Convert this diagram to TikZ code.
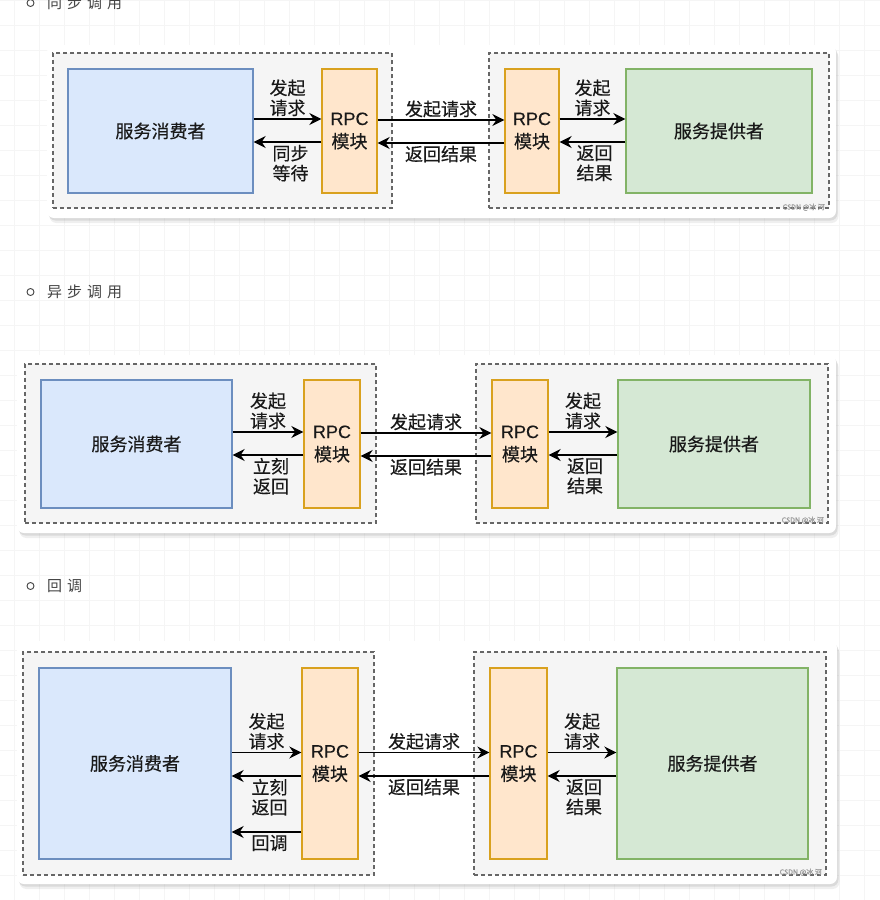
\documentclass[tikz,border=0pt]{standalone}
\usepackage{fontspec}
\setmainfont{Noto Sans CJK SC}[FakeBold=0.35]
\newfontfamily\latfont{Liberation Sans}[FakeBold=0.2]
\newfontfamily\naslovfont{Noto Sans CJK SC}[LetterSpace=33]
\usetikzlibrary{arrows.meta,shadows}
\definecolor{plavaispuna}{HTML}{DAE8FC}
\definecolor{plavaivica}{HTML}{6C8EBF}
\definecolor{narandzispuna}{HTML}{FFE6CC}
\definecolor{narandzivica}{HTML}{D9A11E}
\definecolor{zelenaispuna}{HTML}{D5E8D4}
\definecolor{zelenaivica}{HTML}{82B366}
\definecolor{sivaispuna}{HTML}{F5F5F5}
\definecolor{sivaivica}{HTML}{666666}
\definecolor{tekstsiva}{HTML}{444444}
\definecolor{mreza}{HTML}{F5F5F5}

\begin{document}
\begin{tikzpicture}[
    x=1pt,y=-1pt,
    blok/.style={rectangle,draw,line width=1.3pt,inner sep=0pt,align=center,
                 text=black!90,font=\fontsize{18}{23}\selectfont},
    blokp/.style={blok,fill=plavaispuna,draw=plavaivica},
    blokr/.style={blok,fill=narandzispuna,draw=narandzivica},
    blokd/.style={blok,fill=zelenaispuna,draw=zelenaivica},
    grupa/.style={rectangle,draw=sivaivica,fill=sivaispuna,dash pattern=on 4pt off 3pt,
                  line width=1.2pt,inner sep=0pt},
    panel/.style={rectangle,rounded corners=7pt,fill=white,inner sep=0pt,
                  drop shadow={shadow xshift=2.5pt,shadow yshift=-5pt,opacity=0.12},
                  drop shadow={shadow xshift=1.5pt,shadow yshift=-2.5pt,opacity=0.18}},
    strelica/.style={-{Stealth[length=12pt,width=12pt,inset=4pt]},line width=1.8pt},
    strelicat/.style={strelica,line width=1.4pt},
    natpis/.style={font=\fontsize{18}{20}\selectfont,align=center,inner sep=2pt,text=black!90},
    naslov/.style={font=\naslovfont\fontsize{15}{18}\selectfont,text=tekstsiva,anchor=west,inner sep=0pt},
    tacka/.style={circle,draw=tekstsiva,line width=0.9pt,inner sep=0pt,minimum size=7pt},
    znak/.style={font=\fontsize{7}{8}\selectfont,text=black!40,anchor=south east,inner sep=1pt}
]
\useasboundingbox (0,0) rectangle (880,900);
\fill[white] (0,0) rectangle (880,900);
\draw[mreza,line width=0.9pt,step=25pt,xshift=14pt] (-14,0) grid (866,900);

% sinhroni poziv
\node[tacka] (tacka1) at (30.5,3) {};
\node[naslov] (naslov1) at (47,3) {同步调用};
\node[panel,minimum width=789pt,minimum height=173pt] (panel1) at (441.5,131.5) {};
\node[grupa,minimum width=339pt,minimum height=155pt] (grupa1l) at (222.5,130.5) {};
\node[grupa,minimum width=340pt,minimum height=155pt] (grupa1d) at (659,130.5) {};
\node[blokp,minimum width=185pt,minimum height=124pt] (potrosac1) at (160.5,131) {服务消费者};
\node[blokr,minimum width=55pt,minimum height=124pt] (rpc1l) at (349.5,131) {{\latfont RPC}\\模块};
\node[blokr,minimum width=54pt,minimum height=124pt] (rpc1d) at (532,131) {{\latfont RPC}\\模块};
\node[blokd,minimum width=186pt,minimum height=124pt] (davalac1) at (719,131) {服务提供者};
\node[znak] (znak1) at (826,212) {CSDN @冰 河};

\draw[strelica] ([yshift=12pt]potrosac1.east) -- node[natpis,above]{发起\\请求} ([yshift=12pt]rpc1l.west);
\draw[strelica] ([yshift=-11pt]rpc1l.west) -- node[natpis,below,xshift=3pt]{同步\\等待} ([yshift=-11pt]potrosac1.east);
\draw[strelicat] ([yshift=11pt]rpc1l.east) -- node[natpis,above]{发起请求} ([yshift=11pt]rpc1d.west);
\draw[strelicat] ([yshift=-12pt]rpc1d.west) -- node[natpis,below]{返回结果} ([yshift=-12pt]rpc1l.east);
\draw[strelica] ([yshift=12pt]rpc1d.east) -- node[natpis,above]{发起\\请求} ([yshift=12pt]davalac1.west);
\draw[strelica] ([yshift=-11pt]davalac1.west) -- node[natpis,below,xshift=2pt]{返回\\结果} ([yshift=-11pt]rpc1d.east);

% asinhroni poziv
\node[tacka] (tacka2) at (30.5,292) {};
\node[naslov] (naslov2) at (47,292) {异步调用};
\node[panel,minimum width=819pt,minimum height=178pt] (panel2) at (426.5,444) {};
\node[grupa,minimum width=351pt,minimum height=159pt] (grupa2l) at (200.5,443.5) {};
\node[grupa,minimum width=352pt,minimum height=159pt] (grupa2d) at (652,443.5) {};
\node[blokp,minimum width=191pt,minimum height=128pt] (potrosac2) at (136.5,444) {服务消费者};
\node[blokr,minimum width=56pt,minimum height=128pt] (rpc2l) at (332,444) {{\latfont RPC}\\模块};
\node[blokr,minimum width=56pt,minimum height=128pt] (rpc2d) at (520,444) {{\latfont RPC}\\模块};
\node[blokd,minimum width=192pt,minimum height=128pt] (davalac2) at (714,444) {服务提供者};
\node[znak] (znak2) at (825,525) {CSDN @冰 河};

\draw[strelica] ([yshift=12pt]potrosac2.east) -- node[natpis,above]{发起\\请求} ([yshift=12pt]rpc2l.west);
\draw[strelica] ([yshift=-11pt]rpc2l.west) -- node[natpis,below,xshift=3pt]{立刻\\返回} ([yshift=-11pt]potrosac2.east);
\draw[strelicat] ([yshift=11pt]rpc2l.east) -- node[natpis,above]{发起请求} ([yshift=11pt]rpc2d.west);
\draw[strelicat] ([yshift=-12pt]rpc2d.west) -- node[natpis,below]{返回结果} ([yshift=-12pt]rpc2l.east);
\draw[strelica] ([yshift=12pt]rpc2d.east) -- node[natpis,above]{发起\\请求} ([yshift=12pt]davalac2.west);
\draw[strelica] ([yshift=-11pt]davalac2.west) -- node[natpis,below,xshift=2pt]{返回\\结果} ([yshift=-11pt]rpc2d.east);

% povratni poziv
\node[tacka] (tacka3) at (30.5,586) {};
\node[naslov] (naslov3) at (47,586) {回调};
\node[panel,minimum width=820pt,minimum height=243pt] (panel3) at (427,762.5) {};
\node[grupa,minimum width=351pt,minimum height=223pt] (grupa3l) at (198.5,763.5) {};
\node[grupa,minimum width=352pt,minimum height=223pt] (grupa3d) at (650,763.5) {};
\node[blokp,minimum width=192pt,minimum height=191pt] (potrosac3) at (135,763.5) {服务消费者};
\node[blokr,minimum width=56pt,minimum height=191pt] (rpc3l) at (330,763.5) {{\latfont RPC}\\模块};
\node[blokr,minimum width=57pt,minimum height=191pt] (rpc3d) at (518.5,763.5) {{\latfont RPC}\\模块};
\node[blokd,minimum width=191pt,minimum height=191pt] (davalac3) at (712.5,763.5) {服务提供者};
\node[znak] (znak3) at (823,877) {CSDN @冰 河};

\draw[strelica] ([yshift=11pt]potrosac3.east) -- node[natpis,above]{发起\\请求} ([yshift=11pt]rpc3l.west);
\draw[strelica] ([yshift=-12.5pt]rpc3l.west) -- node[natpis,below,xshift=3pt]{立刻\\返回} ([yshift=-12.5pt]potrosac3.east);
\draw[strelica] ([yshift=-68.5pt]rpc3l.west) -- node[natpis,below,xshift=3pt]{回调} ([yshift=-68.5pt]potrosac3.east);
\draw[strelicat] ([yshift=11pt]rpc3l.east) -- node[natpis,above]{发起请求} ([yshift=11pt]rpc3d.west);
\draw[strelicat] ([yshift=-12.5pt]rpc3d.west) -- node[natpis,below]{返回结果} ([yshift=-12.5pt]rpc3l.east);
\draw[strelica] ([yshift=11pt]rpc3d.east) -- node[natpis,above]{发起\\请求} ([yshift=11pt]davalac3.west);
\draw[strelica] ([yshift=-12.5pt]davalac3.west) -- node[natpis,below,xshift=2pt]{返回\\结果} ([yshift=-12.5pt]rpc3d.east);
\end{tikzpicture}
\end{document}
